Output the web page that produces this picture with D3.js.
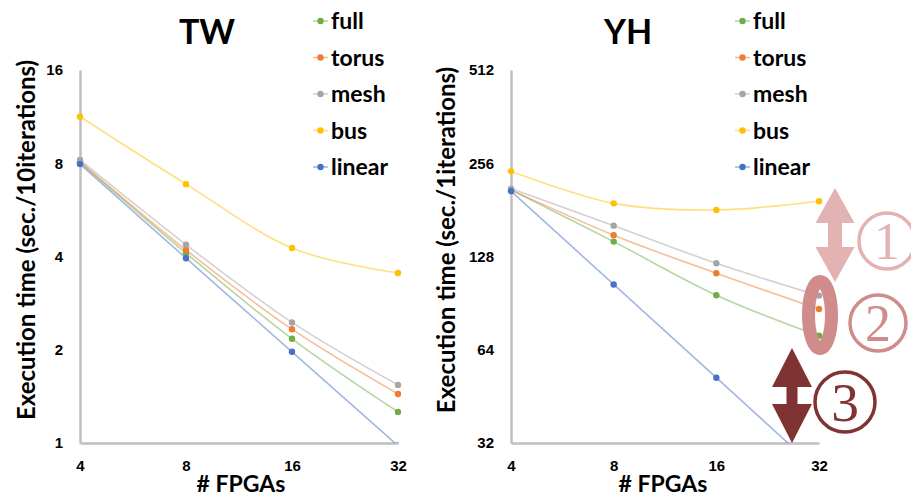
<!DOCTYPE html>
<html>
<head>
<meta charset="utf-8">
<script src="https://cdn.jsdelivr.net/npm/d3@7"></script>
<style>
  body { margin: 0; background: #fff; }
  svg { display: block; font-family: Lato, "Open Sans", sans-serif; }
</style>
</head>
<body>
<svg width="911" height="498"></svg>
<script>
const fpgas = [4, 8, 16, 32];
const series = ["full", "torus", "mesh", "bus", "linear"];
const colors = ["#70ad47", "#ed7d31", "#a5a5a5", "#ffc000", "#4472c4"];

// TW (sec. / 10 iterations)
const twFull = [8.05, 4.1, 2.17, 1.26];
const twTorus = [8.1, 4.2, 2.33, 1.44];
const twMesh = [8.2, 4.37, 2.45, 1.54];
const twBus = [11.3, 6.85, 4.26, 3.54];
const twLinear = [7.95, 3.95, 1.97, 0.98];
const twTicks = [1, 2, 4, 8, 16];

// YH (sec. / 1 iteration)
const yhFull = [210, 143, 96, 71];
const yhTorus = [210, 150, 113, 86.6];
const yhMesh = [212, 161, 121.7, 95.7];
const yhBus = [241, 190, 181, 193];
const yhLinear = [208, 104, 52, 25.9];
const yhTicks = [32, 64, 128, 256, 512];

const svg = d3.select("svg");
const gray = "#bfbfbf";

function drawPanel(p) {
  const g = svg.append("g");
  const x = d3.scaleLog().base(2).domain([4, 32]).range([p.left, p.right]);
  const y = d3.scaleLog().base(2).domain(p.yDomain).range([443, 70]);

  const clipId = "clip-" + p.title;
  svg.append("clipPath").attr("id", clipId)
    .append("rect")
    .attr("x", p.left - 20).attr("y", 40)
    .attr("width", p.right - p.left + 40).attr("height", 443 - 40);

  // axes
  const yAxis = g.append("g")
    .attr("transform", `translate(${p.left},0)`)
    .call(d3.axisLeft(y).tickValues(p.ticks).tickSize(0).tickPadding(17).tickFormat(d3.format("d")));
  const xAxis = g.append("g")
    .attr("transform", "translate(0,443)")
    .call(d3.axisBottom(x).tickValues(fpgas).tickSize(0).tickPadding(17).tickFormat(d3.format("d")));
  [xAxis, yAxis].forEach(a => {
    a.select(".domain").attr("stroke", gray).attr("stroke-width", 2.5);
    a.selectAll("text").attr("font-size", 15).attr("font-weight", 700).attr("fill", "#000");
  });

  // lines
  const line = d3.line()
    .x((d, i) => x(fpgas[i]))
    .y(d => y(d))
    .curve(d3.curveCardinal.tension(0));

  const plot = g.append("g").attr("clip-path", `url(#${clipId})`);
  p.data.forEach((vals, k) => {
    plot.append("path")
      .attr("d", line(vals))
      .attr("fill", "none")
      .attr("stroke", colors[k])
      .attr("stroke-opacity", 0.5)
      .attr("stroke-width", 1.6);
  });
  p.data.forEach((vals, k) => {
    plot.selectAll(null)
      .data(vals)
      .enter()
      .append("circle")
      .attr("cx", (d, i) => x(fpgas[i]))
      .attr("cy", d => y(d))
      .attr("r", 3.2)
      .attr("fill", colors[k]);
  });

  // titles
  g.append("text")
    .attr("x", p.titleX).attr("y", 44)
    .attr("text-anchor", "middle")
    .attr("font-size", 34).attr("font-weight", 700)
    .text(p.title);
  g.append("text")
    .attr("transform", `translate(${p.yLabelX},240) rotate(-90)`)
    .attr("text-anchor", "middle")
    .attr("font-size", 24).attr("font-weight", 700)
    .text(p.yLabel);
  g.append("text")
    .attr("x", p.xLabelX).attr("y", 492)
    .attr("text-anchor", "middle")
    .attr("font-size", 23).attr("font-weight", 700)
    .text("# FPGAs");

  // legend
  const leg = g.append("g").attr("transform", `translate(${p.legendX},0)`);
  series.forEach((s, k) => {
    const ly = 21 + k * 36.5;
    leg.append("line")
      .attr("x1", 0).attr("x2", 15).attr("y1", ly).attr("y2", ly)
      .attr("stroke", colors[k]).attr("stroke-opacity", 0.5).attr("stroke-width", 1.6);
    leg.append("circle").attr("cx", 7.5).attr("cy", ly).attr("r", 3.2).attr("fill", colors[k]);
    leg.append("text")
      .attr("x", 18).attr("y", ly + 8)
      .attr("font-size", 23).attr("font-weight", 700)
      .text(s);
  });
}

drawPanel({
  title: "TW", titleX: 207, left: 80, right: 398, yDomain: [1, 16], ticks: twTicks,
  data: [twFull, twTorus, twMesh, twBus, twLinear],
  yLabel: "Execution time (sec./10iterations)", yLabelX: 35, xLabelX: 241, legendX: 313
});
drawPanel({
  title: "YH", titleX: 628, left: 511, right: 819, yDomain: [32, 512], ticks: yhTicks,
  data: [yhFull, yhTorus, yhMesh, yhBus, yhLinear],
  yLabel: "Execution time (sec./1iterations)", yLabelX: 455, xLabelX: 663, legendX: 735
});

// annotations
function doubleArrow(cx, top, bottom, headW, headH, shaftW, color) {
  const pts = [
    [cx, top], [cx + headW / 2, top + headH], [cx + shaftW / 2, top + headH],
    [cx + shaftW / 2, bottom - headH], [cx + headW / 2, bottom - headH], [cx, bottom],
    [cx - headW / 2, bottom - headH], [cx - shaftW / 2, bottom - headH],
    [cx - shaftW / 2, top + headH], [cx - headW / 2, top + headH]
  ];
  svg.append("path").attr("d", d3.line()(pts) + "Z").attr("fill", color);
}
function circledNum(cx, cy, r, num, color) {
  svg.append("circle").attr("cx", cx).attr("cy", cy).attr("r", r)
    .attr("fill", "none").attr("stroke", color).attr("stroke-width", 3.5);
  svg.append("text").attr("x", cx).attr("y", cy + r * 0.64)
    .attr("text-anchor", "middle")
    .attr("font-family", "'Liberation Serif', 'DejaVu Serif', serif")
    .attr("font-size", r * 1.85)
    .attr("fill", color)
    .text(num);
}

doubleArrow(835, 188, 282, 39, 35, 14, "#e3b3b3");
circledNum(887, 241, 28, "1", "#e3b3b3");

svg.append("ellipse").attr("cx", 820).attr("cy", 315)
  .attr("rx", 11.5).attr("ry", 33.5)
  .attr("fill", "none").attr("stroke", "#d08b8b").attr("stroke-width", 13);
circledNum(878, 323, 28, "2", "#d08b8b");

doubleArrow(792, 348, 443, 40, 39, 11, "#7f3333");
circledNum(845, 402, 30, "3", "#7f3333");
</script>
</body>
</html>
